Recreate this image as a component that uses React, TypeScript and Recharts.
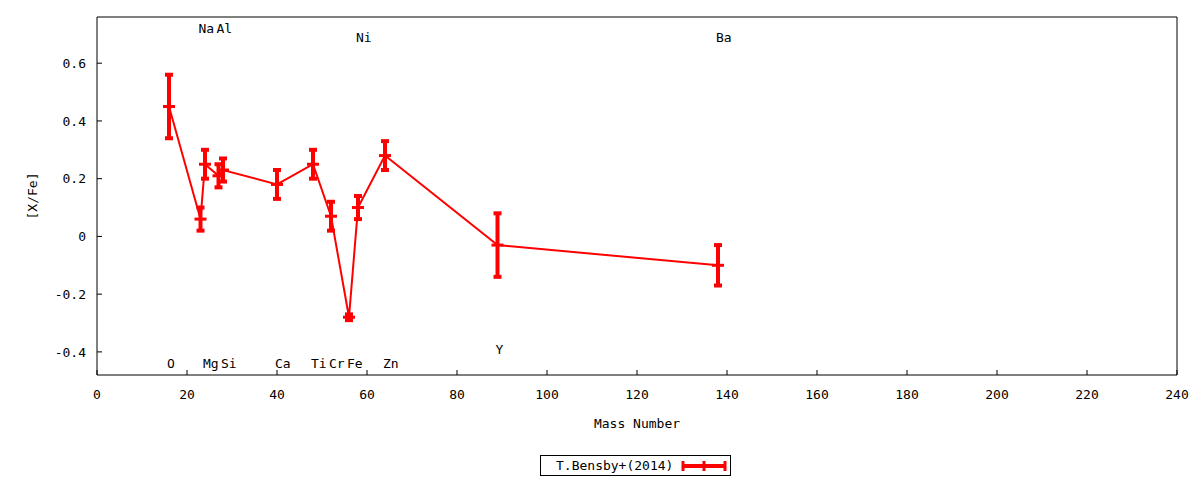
import {
  ComposedChart,
  ErrorBar,
  Legend,
  Line,
  Scatter,
  XAxis,
  YAxis,
} from 'recharts'

const RED = '#ff0000'
const FONT = '"DejaVu Sans Mono", monospace'

// T.Bensby+(2014) abundances
const masses = [16, 23, 24, 27, 28, 40, 48, 52, 56, 58, 64, 89, 138]
const ratios = [0.45, 0.06, 0.25, 0.21, 0.23, 0.18, 0.25, 0.07, -0.28, 0.1, 0.28, -0.03, -0.1]
const errors = [0.11, 0.04, 0.05, 0.04, 0.04, 0.05, 0.05, 0.05, 0.01, 0.04, 0.05, 0.11, 0.07]

// element name labels
const elements = ['O', 'Na', 'Mg', 'Al', 'Si', 'Ca', 'Ti', 'Cr', 'Fe', 'Ni', 'Zn', 'Y', 'Ba']
const labelY = [-0.44, 0.72, -0.44, 0.72, -0.44, -0.44, -0.44, -0.44, -0.44, 0.69, -0.44, -0.39, 0.69]

const xTicks = [0, 20, 40, 60, 80, 100, 120, 140, 160, 180, 200, 220, 240]
const yTicks = [-0.4, -0.2, 0, 0.2, 0.4, 0.6]

const points = masses.map((m, i) => ({ mass: m, ratio: ratios[i], err: errors[i] }))
const labels = masses.map((m, i) => ({ mass: m, pos: labelY[i], name: elements[i] }))

const tickStyle = { fill: '#000', fontSize: 13, fontFamily: FONT }

function PlusDot(props: any) {
  const { cx, cy } = props
  if (cx == null || cy == null) return null
  return <line x1={cx - 6} x2={cx + 6} y1={cy} y2={cy} stroke={RED} strokeWidth={3} />
}

function ElementLabel(props: any) {
  const { cx, cy, payload } = props
  return (
    <text x={cx - 2} y={cy} dominantBaseline="central" fontFamily={FONT} fontSize={13} fill="#000">
      {payload.name}
    </text>
  )
}

function YLabel() {
  return (
    <text
      x={32}
      y={196}
      transform="rotate(-90, 32, 196)"
      textAnchor="middle"
      dominantBaseline="central"
      fontFamily={FONT}
      fontSize={13}
      fill="#000"
    >
      [X/Fe]
    </text>
  )
}

function LegendBox() {
  return (
    <div
      style={{
        boxSizing: 'border-box',
        width: 191,
        height: 21,
        border: '1px solid #000',
        display: 'flex',
        alignItems: 'center',
        fontFamily: FONT,
        fontSize: 13,
        color: '#000',
        background: '#fff',
      }}
    >
      <span style={{ marginLeft: 15 }}>T.Bensby+(2014)</span>
      <svg width={46} height={12} style={{ marginLeft: 8 }}>
        <line x1={2} x2={44} y1={6} y2={6} stroke={RED} strokeWidth={4} />
        <line x1={2} x2={2} y1={1} y2={11} stroke={RED} strokeWidth={3} />
        <line x1={23} x2={23} y1={1} y2={11} stroke={RED} strokeWidth={3} />
        <line x1={44} x2={44} y1={1} y2={11} stroke={RED} strokeWidth={3} />
      </svg>
    </div>
  )
}

export default function App() {
  return (
    <div style={{ position: 'absolute', left: 0, top: 0, background: '#fff' }}>
      <ComposedChart width={1200} height={480} margin={{ top: 16, right: 22, left: 0, bottom: 45 }}>
        <XAxis
          xAxisId="bottom"
          dataKey="mass"
          type="number"
          domain={[0, 240]}
          ticks={xTicks}
          height={60}
          tickSize={-5}
          tickMargin={20}
          tick={tickStyle}
          tickLine={{ stroke: '#000' }}
          axisLine={{ stroke: '#000' }}
          label={{ value: 'Mass Number', position: 'insideBottom', offset: 7, fill: '#000', fontSize: 13, fontFamily: FONT }}
        />
        <XAxis
          xAxisId="top"
          orientation="top"
          dataKey="mass"
          type="number"
          domain={[0, 240]}
          ticks={xTicks}
          height={1}
          tickSize={-5}
          tick={false}
          tickLine={{ stroke: '#000' }}
          axisLine={{ stroke: '#000' }}
        />
        <YAxis
          yAxisId="left"
          type="number"
          domain={[-0.48, 0.76]}
          ticks={yTicks}
          width={97}
          tickSize={-5}
          tickMargin={16}
          tick={tickStyle}
          tickLine={{ stroke: '#000' }}
          axisLine={{ stroke: '#000' }}
          label={<YLabel />}
        />
        <YAxis
          yAxisId="right"
          orientation="right"
          type="number"
          domain={[-0.48, 0.76]}
          ticks={yTicks}
          width={1}
          tickSize={-5}
          tick={false}
          tickLine={{ stroke: '#000' }}
          axisLine={{ stroke: '#000' }}
        />
        <Line
          xAxisId="bottom"
          yAxisId="left"
          data={points}
          dataKey="ratio"
          name="T.Bensby+(2014)"
          type="linear"
          stroke={RED}
          strokeWidth={2}
          dot={<PlusDot />}
          activeDot={false}
          isAnimationActive={false}
        >
          <ErrorBar dataKey="err" direction="y" width={4} strokeWidth={4} stroke={RED} isAnimationActive={false} />
        </Line>
        <Scatter
          xAxisId="bottom"
          yAxisId="left"
          data={labels}
          dataKey="pos"
          shape={<ElementLabel />}
          legendType="none"
          isAnimationActive={false}
        />
        <Legend
          layout="horizontal"
          verticalAlign="middle"
          align="center"
          content={<LegendBox />}
          wrapperStyle={{ left: 540, top: 455, width: 191, height: 21 }}
        />
      </ComposedChart>
    </div>
  )
}
